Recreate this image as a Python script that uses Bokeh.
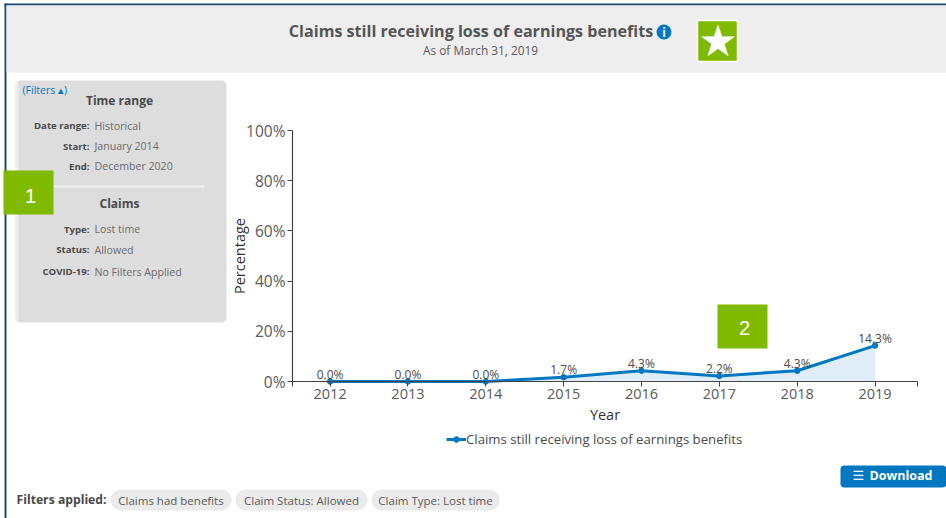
from bokeh.plotting import figure
from bokeh.core.properties import value
from bokeh.models import (ColumnDataSource, Range1d, FixedTicker, Label, BoxAnnotation, Legend, LegendItem)
from bokeh.embed import file_html
from bokeh.resources import INLINE

# ---- data ----
years = [2012, 2013, 2014, 2015, 2016, 2017, 2018, 2019]
values = [0.0, 0.0, 0.0, 1.7, 4.3, 2.2, 4.3, 14.3]
y_ticks = [0, 20, 40, 60, 80, 100]
series_name = "Claims still receiving loss of earnings benefits"
title_text = series_name
subtitle_text = "As of March 31, 2019"
panel_rows_time = [("Date range:", "Historical"), ("Start:", "January 2014"), ("End:", "December 2020")]
panel_rows_claims = [("Type:", "Lost time"), ("Status:", "Allowed"), ("COVID-19:", "No Filters Applied")]
chips = ["Claims had benefits", "Claim Status: Allowed", "Claim Type: Lost time"]

W, H = 946, 518
FONT = "Open Sans"
BLUE = "#0077c1"
GREY = "#5a5a5a"

F_L, F_R, F_T, F_B = 292, 917, 130, 381
sp = 77.85
spy = (F_B - F_T) / 100
xmin = 2012 - (329.6 - F_L) / sp
xmax = 2019 + (F_R - 874.5) / sp
x0r = 2012 - 329.6 / sp
y0r = -(H - F_B) / spy

p = figure(width=W, height=H, output_backend="svg", toolbar_location=None,
           x_range=Range1d(x0r, x0r + W / sp), y_range=Range1d(y0r, y0r + H / spy),
           min_border_left=0, min_border_right=0, min_border_top=0, min_border_bottom=0,
           background_fill_color="white", border_fill_color="white", outline_line_color=None)
p.styles = {"position": "absolute", "left": "0px", "top": "0px"}
p.grid.visible = False

# axes
xa, ya = p.xaxis[0], p.yaxis[0]
xa.fixed_location = 0
ya.fixed_location = xmin
xa.bounds = (xmin, xmax)
ya.bounds = (0, 100)
xa.ticker = FixedTicker(ticks=[xmin] + years + [xmax])
xa.major_label_overrides = {xmin: "", xmax: "", **{y: str(y) for y in years}}
ya.ticker = FixedTicker(ticks=y_ticks)
ya.major_label_overrides = {v: f"{v}%" for v in y_ticks}
for a in (xa, ya):
    a.axis_line_color = "#444444"
    a.axis_line_width = 1.2
    a.major_tick_line_color = "#444444"
    a.major_tick_in = 0
    a.major_tick_out = 5
    a.minor_tick_line_color = None
    a.major_label_text_font = FONT
    a.major_label_text_font_size = "14.5px"
    a.major_label_text_color = GREY
    a.axis_label_text_font = FONT
    a.axis_label_text_font_style = "normal"
    a.axis_label_text_font_size = "14.5px"
    a.axis_label_text_color = "#333333"
ya.major_label_text_font_size = "15.5px"
xa.major_label_standoff = 2
ya.major_label_standoff = 2
xa.axis_label = "Year"
xa.axis_label_standoff = 3
ya.axis_label = "Percentage"
ya.axis_label_standoff = -6

# helpers: page pixels (top-left origin) converted to the frame's bottom-up screen units
def box(x0, y0, x1, y1, color, radius=0, line=None, lw=0, level="underlay"):
    p.add_layout(BoxAnnotation(left=x0, right=x1, top=H - y0, bottom=H - y1,
                               left_units="screen", right_units="screen", top_units="screen", bottom_units="screen",
                               fill_color=color, fill_alpha=1, line_color=line, line_width=lw, line_alpha=1,
                               border_radius=radius, level=level))

def text(x, y, s, size=12, color=GREY, align="left", style="normal", font=FONT, level="overlay"):
    p.add_layout(Label(x=x, y=H - y, x_units="screen", y_units="screen", text=s, text_font=font,
                       text_font_size=f"{size}px", text_color=color, text_align=align, text_baseline="middle",
                       text_font_style=style, level=level))

# frame + header
box(4, 3, W, 5, "#1b4a73")
box(4, 3, 6, H, "#1b4a73")
box(6, 5, W, 72, "#eeeeee")
text(470.5, 30.5, title_text, 16.1, "#555555", "center", "bold")
text(480, 49.5, subtitle_text, 11.8, GREY, "center")
box(656, 24, 671, 39, BLUE, radius=8)
text(663.5, 31.5, "i", 12, "white", "center", "bold")
box(697, 20, 737, 61, "#7fba00", line="white", lw=1.5)
text(717.5, 40, "★", 44, "white", "center", font="DejaVu Sans")

# filter panel
box(15, 80, 226, 322, "#dddddd", radius=5)
box(15, 80, 18, 322, "#eeeeee", radius=2)
text(22, 89.5, "(Filters \u25b4)", 10.5, BLUE)
text(119, 100, "Time range", 12, "#4a4a4a", "center", "bold")
for (k, v), y in zip(panel_rows_time, [125, 145.5, 165.5]):
    text(89, y, k, 9.6, "#4a4a4a", "right", "bold")
    text(94, y, v, 10.6, "#6b6b6b")
box(50, 185, 204, 187, "#f2f2f2")
text(119, 203, "Claims", 12, "#4a4a4a", "center", "bold")
for (k, v), y in zip(panel_rows_claims, [228.5, 249, 271]):
    text(89, y, k, 9.6, "#4a4a4a", "right", "bold")
    text(94, y, v, 10.6, "#6b6b6b")

# data
src = ColumnDataSource(dict(x=years, y=values, base=[0] * len(years), label=[f"{v:.1f}%" for v in values]))
p.varea(x="x", y1="base", y2="y", source=src, fill_color=BLUE, fill_alpha=0.13)
ln = p.line(x="x", y="y", source=src, line_color=BLUE, line_width=3)
pt = p.scatter(x="x", y="y", source=src, size=5.5, color=BLUE)
p.text(x="x", y="y", text="label", source=src, text_align="center", text_baseline="bottom", y_offset=1,
       text_font=value(FONT), text_font_size="12px", text_color="#4a4a4a")

lg = Legend(items=[LegendItem(label=series_name, renderers=[ln, pt])], location=(446, 70),
            border_line_color=None, background_fill_alpha=0, glyph_width=20, glyph_height=14,
            label_text_font=FONT, label_text_font_size="13.2px", label_text_color="#4a4a4a",
            label_standoff=0, padding=0, margin=0)
p.add_layout(lg, "center")

# badges
for x0, y0, s, dy in [(3, 170, "1", 25.5), (717, 304, "2", 23.5)]:
    box(x0, y0, x0 + 50, y0 + 44, "#7fba00", level="overlay")
    text(x0 + 27, y0 + dy, s, 20, "white", "center", font="Liberation Sans")

# download
box(840, 465, 946, 487, BLUE, radius=4)
text(852, 475, "\u2630", 13, "white", font="DejaVu Sans")
text(869, 475, "Download", 12.5, "white", style="bold")

# filters applied
text(16, 499, "Filters applied:", 12.2, "#4a4a4a", style="bold")
for (x0, x1), s in zip([(110, 231), (235, 367), (371, 499)], chips):
    box(x0, 489, x1, 510, "#ebebeb", radius=10)
    text((x0 + x1) / 2, 499.5, s, 11.5, "#5a5a5a", "center")

open("out.html", "w").write(file_html(p, INLINE))
